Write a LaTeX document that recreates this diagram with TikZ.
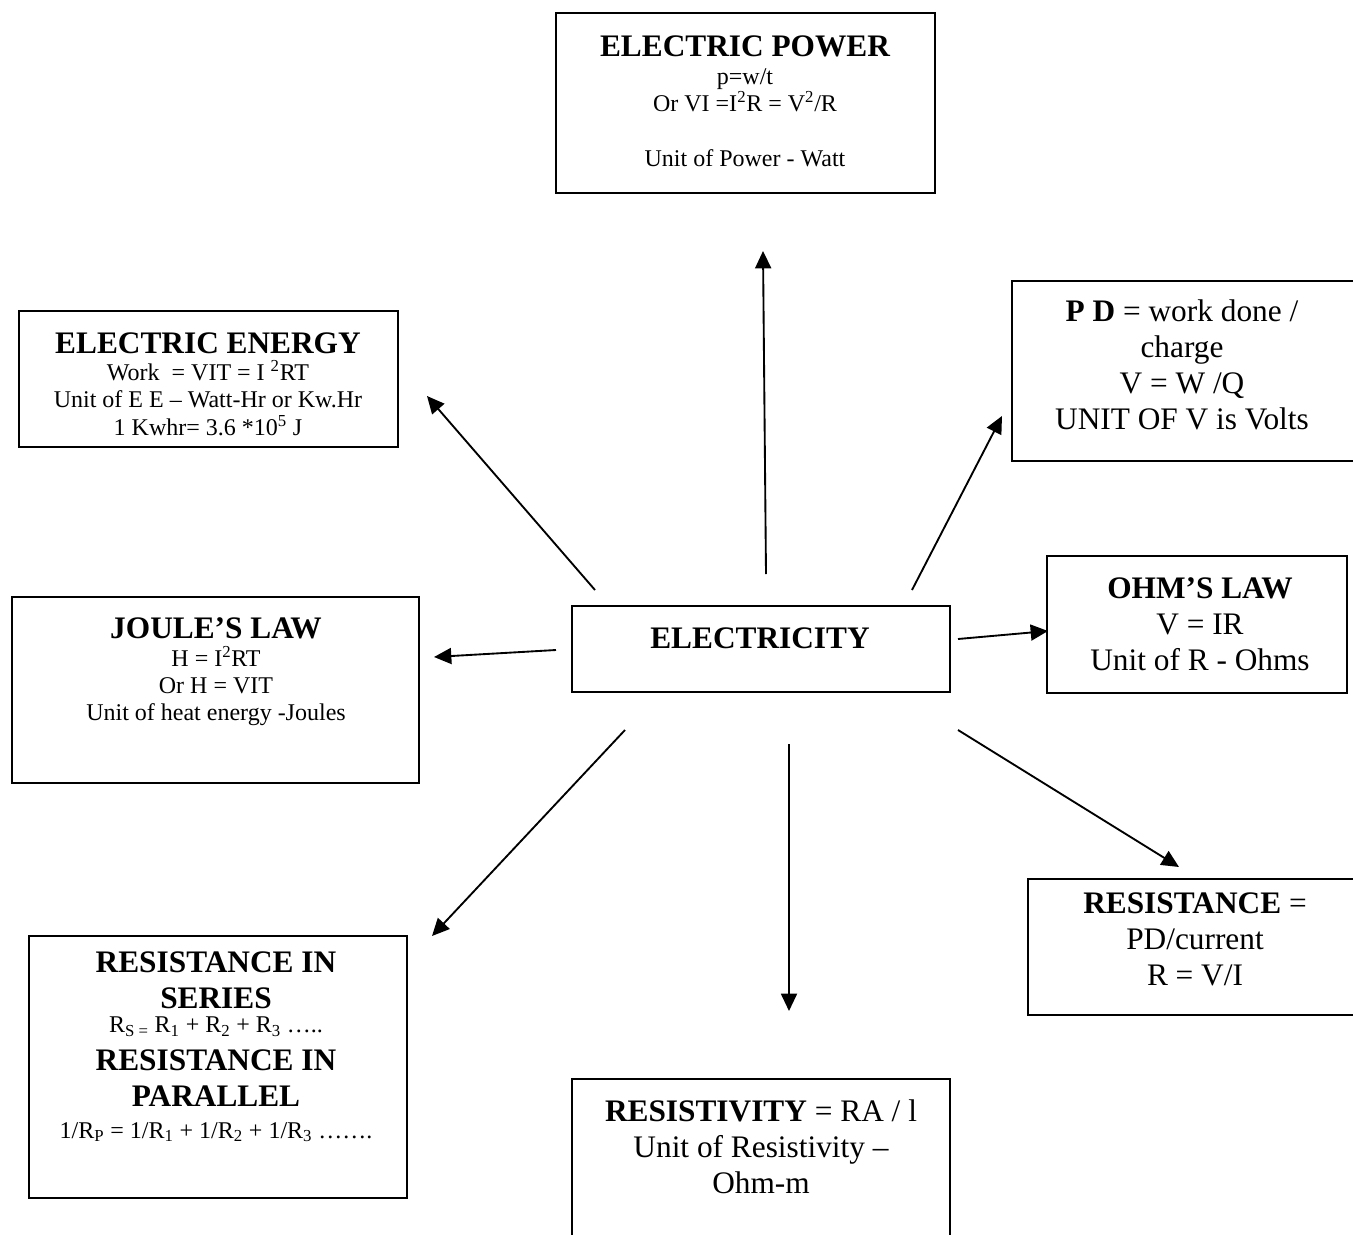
\documentclass[tikz,border=0pt]{standalone}
\usepackage{fontspec}
\setmainfont{Liberation Serif}
\usetikzlibrary{arrows.meta}

\newcommand{\tsz}{\fontsize{23.5}{27}\selectfont\bfseries}
\newcommand{\ssz}{\fontsize{18}{20.5}\selectfont\mdseries}

\tikzset{
  box/.style={draw, line width=1.3pt, inner sep=0pt},
  mid/.style={font=\fontsize{23.5}{27}\selectfont, align=center, anchor=base, inner sep=0pt},
  sm/.style={font=\fontsize{18}{20.5}\selectfont, align=center, anchor=base, inner sep=0pt},
  arr/.style={line width=1.4pt, -{Triangle[length=13pt,width=12pt]}}
}

\begin{document}
\begin{tikzpicture}[x=0.75pt,y=-0.75pt]
      \useasboundingbox (0,0) rectangle (1353,1235) ;
      \clip (0,0) rectangle (1353,1235) ;
      % boxes
      \node[box, minimum width=284.25pt, minimum height=135pt] (power) at (745.5,103) {} ;
      \node[box, minimum width=284.25pt, minimum height=102pt] (energy) at (208.5,379) {} ;
      \node[box, minimum width=259.5pt, minimum height=135pt] (pd) at (1185,371) {} ;
      \node[box, minimum width=305.25pt, minimum height=139.5pt] (joule) at (215.5,690) {} ;
      \node[box, minimum width=283.5pt, minimum height=64.5pt] (elec) at (761,649) {} ;
      \node[box, minimum width=225pt, minimum height=102.75pt] (ohm) at (1197,624.5) {} ;
      \node[box, minimum width=250.5pt, minimum height=102pt] (res) at (1195,947) {} ;
      \node[box, minimum width=283.5pt, minimum height=196.5pt] (series) at (218,1067) {} ;
      \node[box, minimum width=283.5pt, minimum height=136.5pt] (rho) at (761,1170) {} ;
      % texts (anchored at the last baseline)
      \node[sm] (powertxt) at (745,166) {\tsz ELECTRIC POWER\\ p=w/t\\
        Or VI =I\textsuperscript{2}R = V\textsuperscript{2}/R\\[20.5pt] Unit of Power - Watt} ;
      \node[sm] (energytxt) at (208,435) {\tsz ELECTRIC ENERGY\\ Work~ = VIT = I \textsuperscript{2}RT\\
        Unit of E E – Watt-Hr or Kw.Hr\\ 1 Kwhr= 3.6 *10\textsuperscript{5} J} ;
      \node[mid] (pdtxt) at (1182,429) {\textbf{P D} = work done /\\ charge\\ V = W /Q\\ UNIT OF V is Volts} ;
      \node[sm] (jouletxt) at (216,720.7) {\tsz JOULE’S LAW\\ H = I\textsuperscript{2}RT\\ Or H = VIT\\
        Unit of heat energy -Joules} ;
      \node[mid, font=\tsz] (electxt) at (760,648) {ELECTRICITY} ;
      \node[mid] (ohmtxt) at (1200,670) {\textbf{OHM’S LAW}\\ V = IR\\ Unit of R - Ohms} ;
      \node[mid] (restxt) at (1195,985) {\textbf{RESISTANCE} =\\ PD/current\\ R = V/I} ;
      \node[mid, font=\tsz] (seriestxt) at (216,1138) {RESISTANCE IN\\ SERIES\\[-9.2pt]
        \ssz R\textsubscript{S =} R\textsubscript{1} + R\textsubscript{2} + R\textsubscript{3} …..\\[1.5pt]
        RESISTANCE IN\\ PARALLEL\\[-3.5pt]
        \ssz 1/R\textsubscript{P} = 1/R\textsubscript{1} + 1/R\textsubscript{2} + 1/R\textsubscript{3} …….} ;
      \node[mid] (rhotxt) at (761,1193) {\textbf{RESISTIVITY} = RA / l\\ Unit of Resistivity –\\ Ohm-m} ;
      % arrows
      \coordinate (p0) at (766,574) ;   \coordinate (p1) at (763,251) ;
      \coordinate (e0) at (595,590) ;   \coordinate (e1) at (427,396) ;
      \coordinate (d0) at (912,590) ;   \coordinate (d1) at (1002,416) ;
      \coordinate (j0) at (556,650) ;   \coordinate (j1) at (434,657) ;
      \coordinate (o0) at (958,639) ;   \coordinate (o1) at (1048,631) ;
      \coordinate (r0) at (958,730) ;   \coordinate (r1) at (1179,867) ;
      \coordinate (v0) at (789,744) ;   \coordinate (v1) at (789,1011) ;
      \coordinate (s0) at (625,730) ;   \coordinate (s1) at (432,936) ;
      \draw[arr] (p0) -- (p1) ;
      \draw[arr] (e0) -- (e1) ;
      \draw[arr] (d0) -- (d1) ;
      \draw[arr] (j0) -- (j1) ;
      \draw[arr] (o0) -- (o1) ;
      \draw[arr] (r0) -- (r1) ;
      \draw[arr] (v0) -- (v1) ;
      \draw[arr] (s0) -- (s1) ;
\end{tikzpicture}
\end{document}
